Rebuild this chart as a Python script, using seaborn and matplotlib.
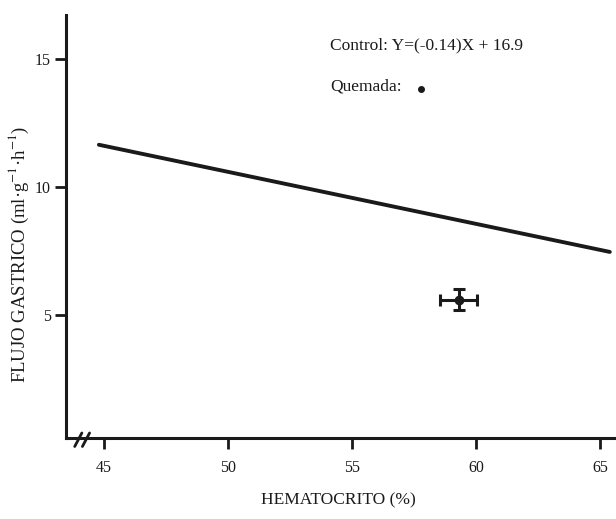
import matplotlib
matplotlib.use("Agg")
import matplotlib.pyplot as plt
import seaborn as sns
import pandas as pd

# Data
control_x = [44.8, 65.4]
control_y = [11.64, 7.46]
quemada_x = [59.3]
quemada_y = [5.6]
quemada_xerr = [0.75]
quemada_yerr = [0.4]
x_ticks = [45, 50, 55, 60, 65]
y_ticks = [5, 10, 15]

sns.set_theme(style="white")
plt.rcParams['font.family'] = ['Liberation Serif', 'DejaVu Serif']
plt.rcParams['mathtext.fontset'] = 'stix'

fig = plt.figure(figsize=(6.16, 5.19), dpi=100)
ax = fig.add_axes([0.107, 0.156, 0.893, 0.815])

df = pd.DataFrame({"x": control_x, "y": control_y})
sns.lineplot(data=df, x="x", y="y", ax=ax, color="#1a1a1a", linewidth=2.8)

ax.errorbar(quemada_x, quemada_y, xerr=quemada_xerr, yerr=quemada_yerr,
            fmt="o", color="#1a1a1a", markersize=6, elinewidth=2.2,
            capsize=4, capthick=2.2)

ax.set_xlim(43.47, 65.65)
ax.set_ylim(0.2, 16.7)
ax.set_xticks(x_ticks)
ax.set_yticks(y_ticks)
ax.tick_params(axis="x", direction="out", length=8, width=2, pad=8,
               color="#1a1a1a", labelsize=11.5, labelcolor="#1a1a1a",
               bottom=True)
ax.tick_params(axis="y", direction="out", length=8, width=2, pad=3,
               color="#1a1a1a", labelsize=11.5, labelcolor="#1a1a1a",
               left=True)

for side in ["top", "right"]:
    ax.spines[side].set_visible(False)
for side in ["left", "bottom"]:
    ax.spines[side].set_color("#1a1a1a")
    ax.spines[side].set_linewidth(2.2)

ax.set_xlabel("HEMATOCRITO (%)", fontsize=12.5, color="#1a1a1a")
ax.xaxis.set_label_coords(0.495, -0.128)
ax.set_ylabel("FLUJO GASTRICO (ml·g$^{-1}$·h$^{-1}$)", fontsize=13.5,
              color="#1a1a1a")
ax.yaxis.set_label_coords(-0.064, 0.435)

# axis break marks
bx = [0.016, 0.030]
for b in bx:
    ax.plot([b, b + 0.013], [-0.02, 0.012], transform=ax.transAxes,
            color="#1a1a1a", linewidth=2, clip_on=False)

ax.text(0.48, 0.929, "Control: Y=(-0.14)X + 16.9", transform=ax.transAxes,
        fontsize=12.5, color="#1a1a1a", va="center", ha="left")
ax.text(0.48, 0.831, "Quemada:", transform=ax.transAxes,
        fontsize=12.5, color="#1a1a1a", va="center", ha="left")
ax.plot([0.645], [0.826], "o", transform=ax.transAxes, color="#1a1a1a",
        markersize=4, clip_on=False)

fig.savefig("out.png", dpi=100)
